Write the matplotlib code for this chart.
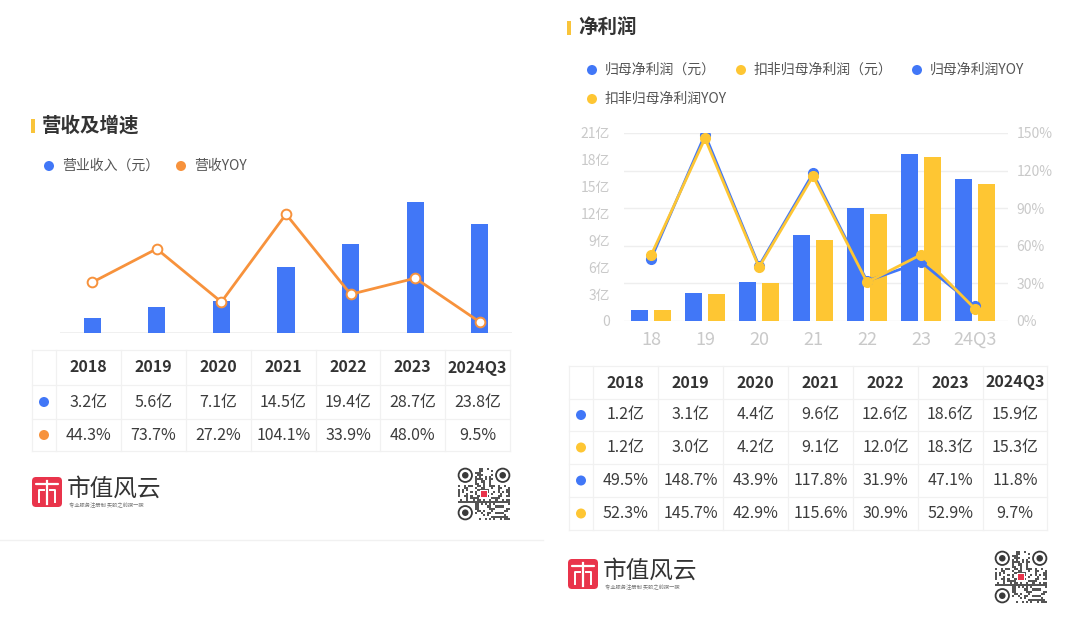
import matplotlib
matplotlib.use("Agg")
import matplotlib.pyplot as plt
from matplotlib.patches import Rectangle, Circle, FancyBboxPatch
import numpy as np

plt.rcParams['font.family'] = ['Noto Sans CJK SC', 'DejaVu Sans']

# ---------------- data ----------------
years = ["2018", "2019", "2020", "2021", "2022", "2023", "2024Q3"]
short_years = ["18", "19", "20", "21", "22", "23", "24Q3"]

revenue = [3.2, 5.6, 7.1, 14.5, 19.4, 28.7, 23.8]          # 亿
revenue_yoy = [44.3, 73.7, 27.2, 104.1, 33.9, 48.0, 9.5]   # %

net_profit = [1.2, 3.1, 4.4, 9.6, 12.6, 18.6, 15.9]        # 亿
deducted_profit = [1.2, 3.0, 4.2, 9.1, 12.0, 18.3, 15.3]   # 亿
net_profit_yoy = [49.5, 148.7, 43.9, 117.8, 31.9, 47.1, 11.8]
deducted_profit_yoy = [52.3, 145.7, 42.9, 115.6, 30.9, 52.9, 9.7]

left_yticks = [0, 3, 6, 9, 12, 15, 18, 21]
right_yticks = [0, 30, 60, 90, 120, 150]

# ---------------- styles ----------------
W, H = 1080, 624
BLUE = "#4177F7"
ORANGE = "#F7923C"
YELLOW = "#FEC633"
TITLE_BAR = "#F9C43A"
DARK = "#333333"
TEXT = "#3C3C3C"
LIGHT = "#C9C9C9"
GRID = "#EEEEEE"
TABLE_LINE = "#F1F1F1"

fig = plt.figure(figsize=(W / 100, H / 100), dpi=100)
fig.patch.set_facecolor("white")


def px_axes(x0, y0, x1, y1):
    """axes from pixel box (top-left origin)"""
    return fig.add_axes([x0 / W, 1 - y1 / H, (x1 - x0) / W, (y1 - y0) / H])


# overlay for text and decorations, in pixel coordinates
ov = fig.add_axes([0, 0, 1, 1], zorder=0)
ov.set_xlim(0, W)
ov.set_ylim(H, 0)
ov.axis("off")

# faint card bottom line of left panel
ov.plot([0, 543], [540, 540], color="#F1F1F1", lw=1)


def title(x, y, s):
    ov.add_patch(Rectangle((x, y - 7), 4, 14, color=TITLE_BAR, lw=0))
    ov.text(x + 11, y, s, fontsize=14, color=DARK, va="center", ha="left",
            fontweight="bold")


def legend_item(x, y, color, s):
    ov.add_patch(Circle((x, y), 5, color=color, lw=0))
    ov.text(x + 13, y, s, fontsize=10, color="#555555", va="center", ha="left")


def table(xedges, yedges, header, rows, dot_colors):
    for xe in xedges:
        ov.plot([xe, xe], [yedges[0], yedges[-1]], color=TABLE_LINE, lw=0.9)
    for ye in yedges:
        ov.plot([xedges[0], xedges[-1]], [ye, ye], color=TABLE_LINE, lw=0.9)
    yc = [(yedges[i] + yedges[i + 1]) / 2 for i in range(len(yedges) - 1)]
    xc = [(xedges[i] + xedges[i + 1]) / 2 for i in range(len(xedges) - 1)]
    for j, h in enumerate(header):
        ov.text(xc[j + 1], yc[0], h, fontsize=11.5, color=DARK, ha="center",
                va="center", fontweight="bold")
    for i, (row, c) in enumerate(zip(rows, dot_colors)):
        ov.add_patch(Circle((xc[0], yc[i + 1]), 5, color=c, lw=0))
        for j, v in enumerate(row):
            ov.text(xc[j + 1], yc[i + 1], v, fontsize=11.5, color=TEXT,
                    ha="center", va="center", fontweight="medium")


def logo(x, y):
    # red icon
    ov.add_patch(FancyBboxPatch((x, y), 30, 30,
                                boxstyle="round,pad=0,rounding_size=4",
                                color="#E9344B", lw=0))
    ov.plot([x + 4, x + 26], [y + 7, y + 7], color="white", lw=1.6,
            solid_capstyle="round")
    ov.plot([x + 15, x + 15], [y + 4, y + 27], color="white", lw=1.6)
    ov.plot([x + 7, x + 7, x + 12], [y + 25, y + 13, y + 13], color="white", lw=1.4)
    ov.plot([x + 18, x + 23, x + 23], [y + 13, y + 13, y + 25], color="white", lw=1.4)
    ov.text(x + 35, y + 12, "市值风云", fontsize=17, color=DARK,
            ha="left", va="center")
    ov.text(x + 37, y + 28, "专业服务注册制 买股之前搜一搜", fontsize=3.8,
            color="#777777", ha="left", va="center")


def qr(x0, y0, size):
    n = 25
    m = size / n
    for i in range(n):
        for j in range(n):
            in_finder = (i < 8 and j < 8) or (i < 8 and j >= n - 8) or (i >= n - 8 and j < 8)
            if in_finder:
                continue
            if ((i * i * 3 + j * 7 + i * j * 5 + (i ^ j)) % 11) < 5:
                ov.add_patch(Rectangle((x0 + j * m, y0 + i * m), m, m,
                                       color="#555555", lw=0))
    r = 3.5 * m
    for (ci, cj) in [(3.5, 3.5), (3.5, n - 3.5), (n - 3.5, 3.5)]:
        cx, cy = x0 + cj * m, y0 + ci * m
        ov.add_patch(Circle((cx, cy), r * 0.92, facecolor="white",
                            edgecolor="#3A3A3A", lw=1.3))
        ov.add_patch(Circle((cx, cy), r * 0.45, color="#3A3A3A", lw=0))
    ov.add_patch(Rectangle((x0 + size / 2 - 4, y0 + size / 2 - 4), 8, 8,
                           color="white", lw=0))
    ov.add_patch(Rectangle((x0 + size / 2 - 3, y0 + size / 2 - 3), 6, 6,
                           color="#E9344B", lw=0))


# ---------------- left panel ----------------
title(31, 126, "营收及增速")
legend_item(49, 166, BLUE, "营业收入（元）")
legend_item(181, 166, ORANGE, "营收YOY")

x = np.arange(len(years))
axL = px_axes(59.7, 196, 512.3, 333)
axL.bar(x, revenue, width=0.263, color=BLUE, zorder=2)
axL.set_xlim(-0.5, 6.5)
axL.set_ylim(0, 30)
axL.axis("off")
axL.axhline(0, color=GRID, lw=1.2, zorder=1)
axL2 = axL.twinx()
axL2.plot(x, revenue_yoy, color=ORANGE, lw=2, marker="o", ms=7,
          mfc="white", mec=ORANGE, mew=1.4, zorder=3)
axL2.set_ylim(0, 120)
axL2.set_xlim(-0.5, 6.5)
axL2.axis("off")

table([32, 56, 121, 186, 251, 316, 380, 445, 510], [350, 385, 419, 451],
      years,
      [[f"{v:.1f}亿" for v in revenue], [f"{v:.1f}%" for v in revenue_yoy]],
      [BLUE, ORANGE])

logo(32, 477)
qr(458, 468, 52)

# ---------------- right panel ----------------
title(567, 28, "净利润")
legend_item(592, 70, BLUE, "归母净利润（元）")
legend_item(741, 70, YELLOW, "扣非归母净利润（元）")
legend_item(917, 70, BLUE, "归母净利润YOY")
legend_item(592, 99, YELLOW, "扣非归母净利润YOY")

axR = px_axes(624, 133, 1008, 321)
xr1 = (1008 - 651) / 54
axR.bar(x - 0.205, net_profit, width=0.315, color=BLUE, zorder=2)
axR.bar(x + 0.205, deducted_profit, width=0.315, color=YELLOW, zorder=2)
axR.set_xlim(-0.5, xr1)
axR.set_ylim(0, 21)
axR.set_yticks(left_yticks)
axR.set_yticklabels(["0"] + [f"{v}亿" for v in left_yticks[1:]])
axR.set_xticks(x)
axR.set_xticklabels(short_years)
axR.tick_params(axis="y", length=0, pad=10, labelsize=10, labelcolor=LIGHT)
axR.tick_params(axis="x", length=0, pad=7, labelsize=13, labelcolor=LIGHT)
for s in axR.spines.values():
    s.set_visible(False)
axR.set_facecolor("none")

axR2 = axR.twinx()
axR2.set_ylim(0, 150)
axR2.set_yticks(right_yticks)
axR2.set_yticklabels([f"{v}%" for v in right_yticks])
axR2.tick_params(axis="y", length=0, pad=6, labelsize=10, labelcolor=LIGHT)
for s in axR2.spines.values():
    s.set_visible(False)
for v in right_yticks:
    axR.axhline(v * 21 / 150, color=GRID, lw=1, zorder=0)
axR2.plot(x, net_profit_yoy, color=BLUE, lw=2, marker="o", ms=7,
          mfc=BLUE, mec=BLUE, zorder=3)
axR2.plot(x, deducted_profit_yoy, color=YELLOW, lw=2, marker="o", ms=7,
          mfc=YELLOW, mec=YELLOW, zorder=4)
axR2.set_xlim(-0.5, xr1)

table([569, 593, 658, 723, 788, 853, 918, 983, 1047],
      [366, 399, 431, 464, 497, 530],
      years,
      [[f"{v:.1f}亿" for v in net_profit],
       [f"{v:.1f}亿" for v in deducted_profit],
       [f"{v:.1f}%" for v in net_profit_yoy],
       [f"{v:.1f}%" for v in deducted_profit_yoy]],
      [BLUE, YELLOW, BLUE, YELLOW])

logo(568, 559)
qr(995, 551, 52)

fig.savefig("out.png", dpi=100, facecolor="white")
